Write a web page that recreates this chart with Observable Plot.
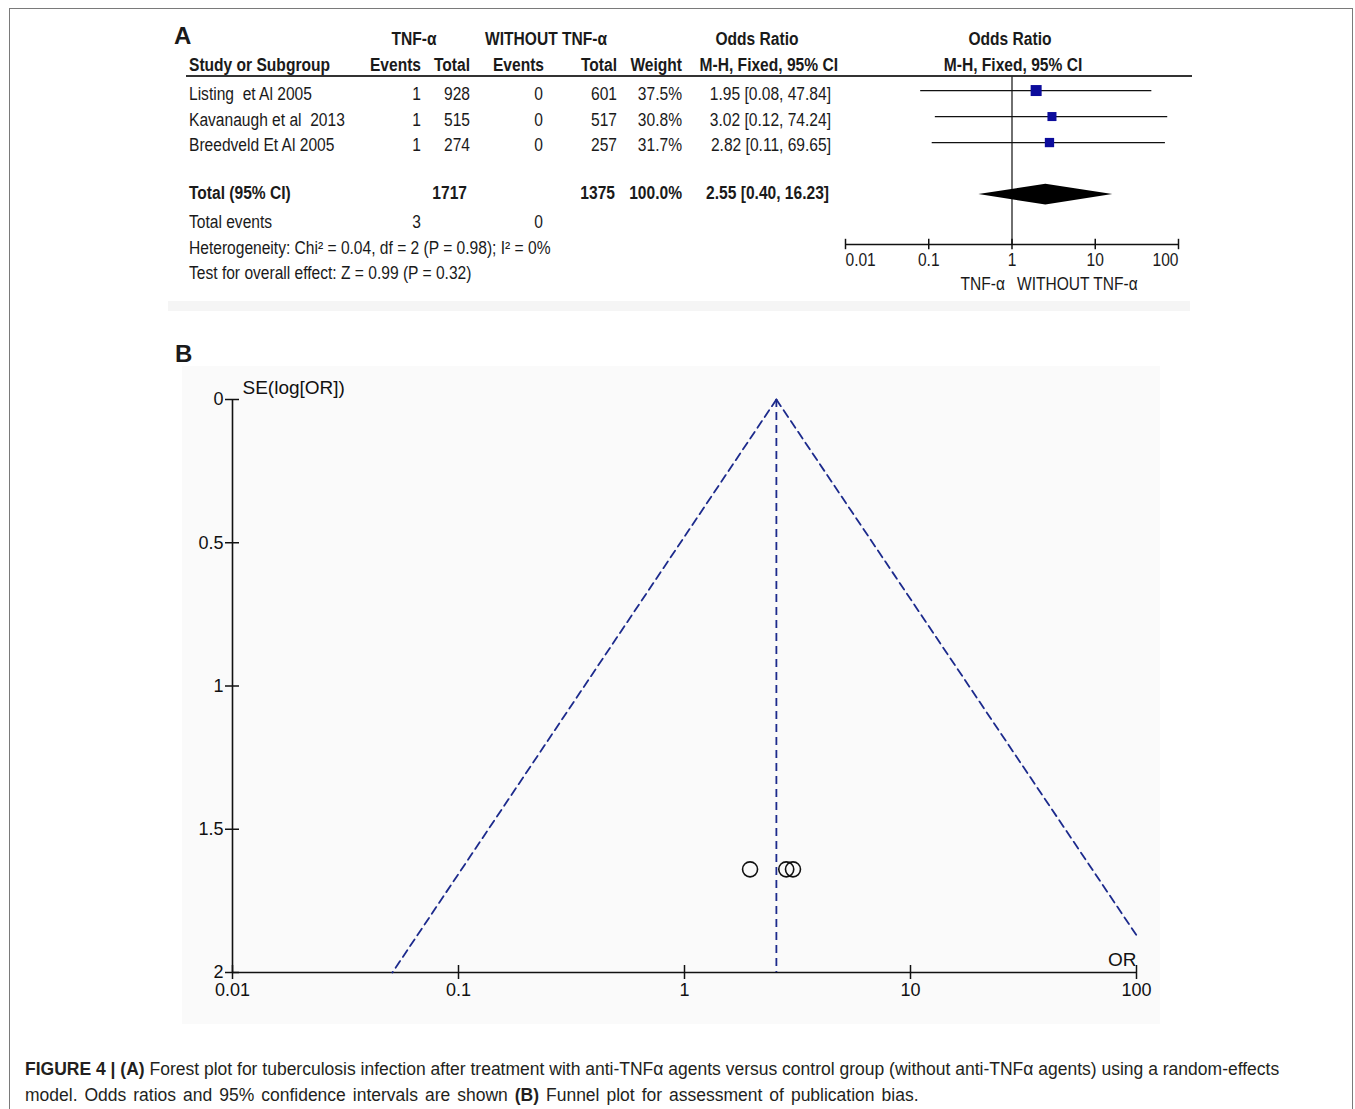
<!DOCTYPE html>
<html><head><meta charset="utf-8">
<script src="https://cdn.jsdelivr.net/npm/d3@7"></script>
<script src="https://cdn.jsdelivr.net/npm/@observablehq/plot@0.6"></script>
<style>
html,body{margin:0;padding:0;background:#fff;overflow:hidden;}
body{width:1355px;height:1109px;position:relative;font-family:"Liberation Sans",Arial,sans-serif;color:#1a1a1a;}
.frame{position:absolute;left:9px;top:8px;width:1344px;height:1200px;border:1.5px solid #7a7a7a;box-sizing:border-box;}
.t{position:absolute;white-space:pre;line-height:1;}
.chart{position:absolute;}
.caption{position:absolute;left:25px;top:1056px;font-size:17.5px;line-height:26px;color:#231f20;white-space:nowrap;}
</style></head><body>
<div class="frame"></div>
<div style="position:absolute;left:168px;top:301px;width:1022px;height:10px;background:#f5f5f5"></div>
<div style="position:absolute;left:182px;top:366px;width:978px;height:658px;background:#fafafa"></div>
<div style="position:absolute;left:186px;top:75px;width:1006px;height:2px;background:#333"></div>
<div class="caption"><b>FIGURE 4 | (A)</b> Forest plot for tuberculosis infection after treatment with anti-TNFα agents versus control group (without anti-TNFα agents) using a random-effects<br><span style="word-spacing:2.1px">model. Odds ratios and 95% confidence intervals are shown <b>(B)</b> Funnel plot for assessment of publication bias.</span></div>
<script>
// ---------- DATA ----------
const studies = ["Listing  et Al 2005", "Kavanaugh et al  2013", "Breedveld Et Al 2005"];
const eventsTNF = [1, 1, 1];
const totalTNF = [928, 515, 274];
const eventsCtrl = [0, 0, 0];
const totalCtrl = [601, 517, 257];
const weights = [37.5, 30.8, 31.7];
const oddsRatio = [1.95, 3.02, 2.82];
const ciLow = [0.08, 0.12, 0.11];
const ciHigh = [47.84, 74.24, 69.65];
const totalTNFSum = 1717;
const totalCtrlSum = 1375;
const totalWeight = 100.0;
const pooledOR = 2.55;
const pooledLo = 0.40;
const pooledHi = 16.23;
const totalEventsTNF = 3;
const totalEventsCtrl = 0;
const heterogeneityText = "Heterogeneity: Chi² = 0.04, df = 2 (P = 0.98); I² = 0%";
const overallText = "Test for overall effect: Z = 0.99 (P = 0.32)";
const forestTicks = [0.01, 0.1, 1, 10, 100];
const forestTickLabels = ["0.01", "0.1", "1", "10", "100"];
const favourLabels = ["TNF-α", "WITHOUT TNF-α"];

const funnelXTicks = [0.01, 0.1, 1, 10, 100];
const funnelXLabels = ["0.01", "0.1", "1", "10", "100"];
const funnelYTicks = [0, 0.5, 1, 1.5, 2];
const funnelYLabels = ["0", "0.5", "1", "1.5", "2"];
const funnelSE = [1.64, 1.64, 1.64];
const funnelLeftOR = [2.55, 0.051];
const funnelLeftSE = [0, 2.0];
const funnelRightOR = [2.55, 100];
const funnelRightSE = [0, 1.87];

// ---------- helpers ----------
const FONT = '"Liberation Sans", Arial, sans-serif';
const SX = 0.865;
function put(s, x, y, anchor = "start", bold = false, size = 18, sx = SX) {
  const el = document.createElement("div");
  el.className = "t";
  el.textContent = s;
  el.style.left = x + "px";
  el.style.top = y + "px";
  el.style.fontSize = size + "px";
  if (bold) el.style.fontWeight = "bold";
  const tx = anchor === "end" ? "-100%" : anchor === "middle" ? "-50%" : "0";
  el.style.transformOrigin = anchor === "end" ? "right center" : anchor === "middle" ? "center center" : "left center";
  el.style.transform = `translate(${tx},-50%) scaleX(${sx})`;
  document.body.appendChild(el);
}
const fmt2 = v => v.toFixed(2);
const ciText = (o, l, h) => `${fmt2(o)} [${fmt2(l)}, ${fmt2(h)}]`;

// ---------- Panel A table ----------
put("A", 174, 36, "start", true, 24, 1);
put("TNF-α", 414, 39, "middle", true);
put("WITHOUT TNF-α", 546, 39, "middle", true);
put("Odds Ratio", 757, 39, "middle", true);
put("Odds Ratio", 1010, 39, "middle", true);
put("Study or Subgroup", 189, 65, "start", true);
put("Events", 421, 65, "end", true);
put("Total", 470, 65, "end", true);
put("Events", 544, 65, "end", true);
put("Total", 617, 65, "end", true);
put("Weight", 682, 65, "end", true);
put("M-H, Fixed, 95% CI", 838, 65, "end", true);
put("M-H, Fixed, 95% CI", 1013, 65, "middle", true);

const rowY = [94, 119.5, 145];
studies.forEach((s, i) => {
  const y = rowY[i];
  put(s, 189, y);
  put(String(eventsTNF[i]), 421, y, "end");
  put(String(totalTNF[i]), 470, y, "end");
  put(String(eventsCtrl[i]), 543, y, "end");
  put(String(totalCtrl[i]), 617, y, "end");
  put(weights[i].toFixed(1) + "%", 682, y, "end");
  put(ciText(oddsRatio[i], ciLow[i], ciHigh[i]), 831, y, "end");
});
put("Total (95% CI)", 189, 193, "start", true);
put(String(totalTNFSum), 467, 193, "end", true);
put(String(totalCtrlSum), 615, 193, "end", true);
put(totalWeight.toFixed(1) + "%", 682, 193, "end", true);
put(ciText(pooledOR, pooledLo, pooledHi), 829, 193, "end", true);
put("Total events", 189, 222);
put(String(totalEventsTNF), 421, 222, "end");
put(String(totalEventsCtrl), 543, 222, "end");
put(heterogeneityText, 189, 248);
put(overallText, 189, 273);

// ---------- Panel A forest graphic ----------
const forestRows = studies.map((s, i) => ({study: s, row: i + 1, or: oddsRatio[i], lo: ciLow[i], hi: ciHigh[i], w: weights[i]}));
const totalRow = 5;
const axisRow = 6.92;
const diamond = [
  {y: totalRow - 0.4, x1: pooledOR, x2: pooledOR},
  {y: totalRow, x1: pooledLo, x2: pooledHi},
  {y: totalRow + 0.4, x1: pooledOR, x2: pooledOR}
];
const ticksData = forestTicks.map((v, i) => ({v, label: forestTickLabels[i]}));
const forest = Plot.plot({
  width: 390, height: 230,
  marginLeft: 0, marginRight: 0, marginTop: 0, marginBottom: 0,
  x: {type: "log", domain: [0.01, 100], range: [25, 358], axis: null},
  y: {domain: [0.46, axisRow], range: [6, 174], axis: null},
  r: {type: "linear", domain: [0, 37.5], range: [0, 6.2]},
  style: {fontFamily: FONT, fontSize: "18px", color: "#1a1a1a", background: "transparent", overflow: "visible"},
  marks: [
    Plot.ruleX([1], {y1: 0.46, y2: axisRow, stroke: "#222", strokeWidth: 1.3}),
    Plot.ruleY(forestRows, {y: "row", x1: "lo", x2: "hi", stroke: "#111", strokeWidth: 1.3}),
    Plot.dot(forestRows, {x: "or", y: "row", r: "w", symbol: "square", fill: "#0c0c9c", stroke: null}),
    Plot.areaX(diamond, {y: "y", x1: "x1", x2: "x2", fill: "#000", curve: "linear"}),
    Plot.ruleY([axisRow], {x1: forestTicks[0], x2: forestTicks[forestTicks.length - 1], stroke: "#111", strokeWidth: 1.5}),
    Plot.ruleX(ticksData, {x: "v", y1: axisRow - 0.2, y2: axisRow + 0.2, stroke: "#111", strokeWidth: 1.5}),
    Plot.text(ticksData.slice(0, 1), {x: "v", y: () => axisRow, text: "label", dy: 16, textAnchor: "start", fill: "#1a1a1a"}),
    Plot.text(ticksData.slice(1, -1), {x: "v", y: () => axisRow, text: "label", dy: 16, textAnchor: "middle", fill: "#1a1a1a"}),
    Plot.text(ticksData.slice(-1), {x: "v", y: () => axisRow, text: "label", dy: 16, textAnchor: "end", fill: "#1a1a1a"}),
    Plot.text([favourLabels[0]], {x: () => 1, y: () => axisRow, text: d => d, dy: 40, dx: -7, textAnchor: "end", fill: "#1a1a1a"}),
    Plot.text([favourLabels[1]], {x: () => 1, y: () => axisRow, text: d => d, dy: 40, dx: 5, textAnchor: "start", fill: "#1a1a1a"})
  ]
});
forest.classList.add("chart");
forest.style.left = "820px";
forest.style.top = "70px";
forest.querySelectorAll("text").forEach(t => {
  const tr = t.getAttribute("transform");
  if (tr) t.setAttribute("transform", tr + ` scale(${SX},1)`);
  else {
    const x = +(t.getAttribute("x") || 0);
    t.setAttribute("transform", `translate(${x},0) scale(${SX},1) translate(${-x},0)`);
  }
});
document.body.appendChild(forest);

// ---------- Panel B ----------
put("B", 175, 354, "start", true, 24, 1);
const funnelPoints = oddsRatio.map((o, i) => ({or: o, se: funnelSE[i], study: studies[i]}));
const funnelLeft = funnelLeftOR.map((o, i) => ({or: o, se: funnelLeftSE[i]}));
const funnelRight = funnelRightOR.map((o, i) => ({or: o, se: funnelRightSE[i]}));
const xLab = new Map(funnelXTicks.map((v, i) => [v, funnelXLabels[i]]));
const yLab = new Map(funnelYTicks.map((v, i) => [v, funnelYLabels[i]]));
const dashCol = "#1c2a8c";
const funnel = Plot.plot({
  width: 1020, height: 700,
  marginLeft: 72, marginRight: 44, marginTop: 59, marginBottom: 68,
  x: {type: "log", domain: [0.01, 100]},
  y: {domain: [0, 2], reverse: true},
  style: {fontFamily: FONT, fontSize: "18px", color: "#111", background: "transparent", overflow: "visible"},
  marks: [
    Plot.ruleX([funnelXTicks[0]], {y1: funnelYTicks[0], y2: funnelYTicks[funnelYTicks.length - 1], stroke: "#111", strokeWidth: 1.6}),
    Plot.ruleY([funnelYTicks[funnelYTicks.length - 1]], {x1: funnelXTicks[0], x2: funnelXTicks[funnelXTicks.length - 1], stroke: "#111", strokeWidth: 1.6}),
    Plot.axisX({ticks: funnelXTicks, tickFormat: d => xLab.get(d), tickSize: 14, dy: -7, tickPadding: 4, anchor: "bottom", label: null, stroke: "#111", strokeWidth: 1.5, fill: "#111"}),
    Plot.axisY({ticks: funnelYTicks, tickFormat: d => yLab.get(d), tickSize: 14, dx: 7, tickPadding: 2, anchor: "left", label: null, stroke: "#111", strokeWidth: 1.5, fill: "#111"}),
    Plot.line(funnelLeft, {x: "or", y: "se", stroke: dashCol, strokeWidth: 1.8, strokeDasharray: "8,5"}),
    Plot.line(funnelRight, {x: "or", y: "se", stroke: dashCol, strokeWidth: 1.8, strokeDasharray: "8,5"}),
    Plot.ruleX([pooledOR], {y1: funnelYTicks[0], y2: funnelYTicks[funnelYTicks.length - 1], stroke: dashCol, strokeWidth: 1.8, strokeDasharray: "8,5"}),
    Plot.dot(funnelPoints, {x: "or", y: "se", r: 7.5, stroke: "#111", strokeWidth: 1.6, fill: "none"}),
    Plot.text(["SE(log[OR])"], {x: () => funnelXTicks[0], y: () => funnelYTicks[0], text: d => d, dx: 10, dy: -12, textAnchor: "start", fontSize: 19, fill: "#111"}),
    Plot.text(["OR"], {x: () => funnelXTicks[funnelXTicks.length - 1], y: () => funnelYTicks[funnelYTicks.length - 1], text: d => d, dy: -13, textAnchor: "end", fontSize: 19, fill: "#111"})
  ]
});
funnel.classList.add("chart");
funnel.style.left = "160px";
funnel.style.top = "340px";
document.body.appendChild(funnel);
</script>
</body></html>
